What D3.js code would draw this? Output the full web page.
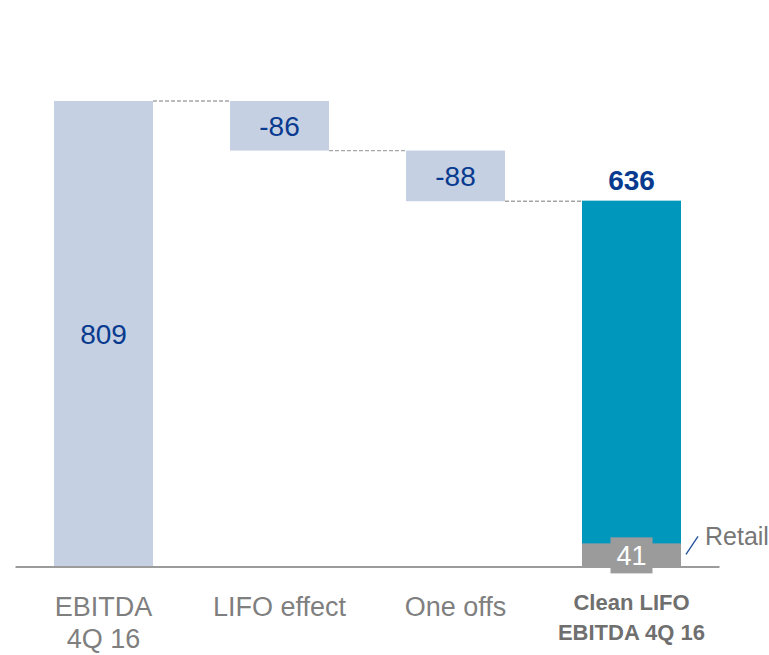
<!DOCTYPE html>
<html>
<head>
    <title>EBITDA bridge 4Q 16</title>
    <script src="https://d3js.org/d3.v7.min.js"></script>
    <style>
        body { margin: 0; background: #fff; }
        text { font-family: 'Liberation Sans', Arial, sans-serif; }
    </style>
</head>
<body>
<svg width="769" height="655"></svg>

<script>
    // chart data
    const categories = ['EBITDA|4Q 16', 'LIFO effect', 'One offs', 'Clean LIFO|EBITDA 4Q 16'];
    const values = [809, -86, -88, 636];
    const kinds = ['total', 'delta', 'delta', 'total'];
    const retailValue = 41;
    const retailLabel = 'Retail';

    const svg = d3.select('svg');

    const baseY = 567;

    // x band scale, outer padding = half the gap between bars
    const xScale = d3.scaleBand()
        .domain(categories)
        .range([15.5, 719.5])
        .paddingInner(0.4375)
        .paddingOuter(0.21875);

    const yScale = d3.scaleLinear()
        .domain([0, 809])
        .range([baseY, 101]);

    // work out the floating bars
    let running = 0;
    const bars = categories.map((c, i) => {
        let from, to;
        if (kinds[i] === 'total') {
            from = 0;
            to = values[i];
        } else {
            from = running;
            to = running + values[i];
        }
        running = to;
        return { cat: c, value: values[i], kind: kinds[i], from: from, to: to, last: i === categories.length - 1 };
    });

    const g = svg.append('g');

    // dashed connectors between bars
    for (let i = 0; i < bars.length - 1; i++) {
        const level = bars[i].to;
        g.append('line')
            .attr('x1', xScale(bars[i].cat) + xScale.bandwidth())
            .attr('x2', xScale(bars[i + 1].cat))
            .attr('y1', yScale(level))
            .attr('y2', yScale(level))
            .attr('stroke', '#a6a6a6')
            .attr('stroke-width', 1.3)
            .attr('stroke-dasharray', '4,2');
    }

    // bars
    g.selectAll('rect.bar').data(bars)
        .enter().append('rect')
        .attr('class', 'bar')
        .attr('x', d => xScale(d.cat))
        .attr('width', xScale.bandwidth())
        .attr('y', d => yScale(Math.max(d.from, d.to)))
        .attr('height', d => Math.abs(yScale(d.from) - yScale(d.to)))
        .attr('fill', d => d.last ? '#0097bd' : '#c5d0e2');

    // retail part of the last bar
    const lastBar = bars[bars.length - 1];
    const lx = xScale(lastBar.cat);
    g.append('rect')
        .attr('x', lx)
        .attr('width', xScale.bandwidth())
        .attr('y', yScale(retailValue))
        .attr('height', yScale(0) - yScale(retailValue))
        .attr('fill', '#9b9b9b');

    // axis line
    g.append('line')
        .attr('x1', xScale.range()[0])
        .attr('x2', xScale.range()[1])
        .attr('y1', baseY)
        .attr('y2', baseY)
        .attr('stroke', '#9b9b9b')
        .attr('stroke-width', 2);

    // retail value box
    const cx = lx + xScale.bandwidth() / 2;
    g.append('rect')
        .attr('x', cx - 21)
        .attr('y', yScale(retailValue) - 6)
        .attr('width', 42)
        .attr('height', 36)
        .attr('fill', '#9b9b9b');

    g.append('text')
        .attr('x', cx)
        .attr('y', yScale(retailValue / 2) + 10)
        .attr('text-anchor', 'middle')
        .attr('font-size', 27)
        .attr('fill', '#fff')
        .text(retailValue);

    // retail marker
    const rx = lx + xScale.bandwidth();
    g.append('line')
        .attr('x1', rx + 5)
        .attr('y1', yScale(retailValue) + 11)
        .attr('x2', rx + 17)
        .attr('y2', yScale(retailValue) - 7)
        .attr('stroke', '#1f4e9c')
        .attr('stroke-width', 1.3);

    g.append('text')
        .attr('x', rx + 24)
        .attr('y', yScale(retailValue) + 2)
        .attr('font-size', 25)
        .attr('fill', '#777')
        .text(retailLabel);

    // value labels
    g.selectAll('text.val').data(bars)
        .enter().append('text')
        .attr('class', 'val')
        .attr('x', d => xScale(d.cat) + xScale.bandwidth() / 2)
        .attr('y', d => {
            if (d.last) return yScale(d.to) - 11;
            return (yScale(d.from) + yScale(d.to)) / 2 + 10;
        })
        .attr('text-anchor', 'middle')
        .attr('font-size', 28)
        .attr('font-weight', d => d.last ? 'bold' : 'normal')
        .attr('fill', '#083a8f')
        .text(d => d.value);

    // category labels
    bars.forEach(d => {
        const lines = d.cat.split('|');
        const t = g.append('text')
            .attr('x', xScale(d.cat) + xScale.bandwidth() / 2)
            .attr('y', d.last ? 610 : 616)
            .attr('text-anchor', 'middle')
            .attr('font-size', d.last ? 22 : 27)
            .attr('font-weight', d.last ? 'bold' : 'normal')
            .attr('fill', d.last ? '#6f6f6f' : '#7f7f7f');
        lines.forEach((l, k) => {
            t.append('tspan')
                .attr('x', xScale(d.cat) + xScale.bandwidth() / 2)
                .attr('dy', k === 0 ? 0 : (d.last ? 30 : 32))
                .text(l);
        });
    });
</script>
</body>
</html>
